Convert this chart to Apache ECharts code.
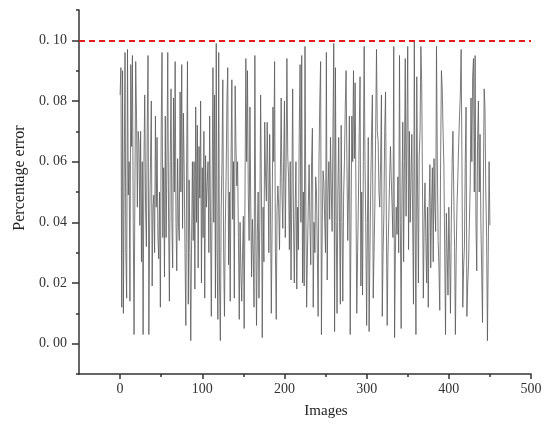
<!DOCTYPE html>
<html>
<head>
<meta charset="utf-8">
<script src="https://cdn.jsdelivr.net/npm/echarts@6/dist/echarts.min.js"></script>
<style>
  html, body { margin: 0; padding: 0; background: #fff; }
  #chart { width: 550px; height: 428px; }
</style>
</head>
<body>
<div id="chart"></div>
<script>
// x tick values / labels
var xMajorTicks = [0, 100, 200, 300, 400, 500];
var xMinorTicks = [50, 150, 250, 350, 450];
// y tick values / labels
var yMajorTicks = [0, 0.02, 0.04, 0.06, 0.08, 0.1];
var yMinorTicks = [-0.01, 0.01, 0.03, 0.05, 0.07, 0.09, 0.11];
var threshold = 0.1;

// percentage error per image (images 0..105)
var errorsA = [
  0.082, 0.091, 0.012, 0.090, 0.010, 0.055, 0.096, 0.030, 0.015, 0.097,
  0.049, 0.060, 0.014, 0.092, 0.065, 0.095, 0.040, 0.003, 0.050, 0.093,
  0.075, 0.045, 0.070, 0.066, 0.039, 0.070, 0.027, 0.060, 0.003, 0.060,
  0.082, 0.045, 0.032, 0.070, 0.095, 0.003, 0.041, 0.060, 0.080, 0.019,
  0.045, 0.049, 0.030, 0.075, 0.045, 0.068, 0.035, 0.028, 0.050, 0.012,
  0.070, 0.096, 0.035, 0.058, 0.022, 0.075, 0.035, 0.060, 0.096, 0.040,
  0.014, 0.060, 0.084, 0.040, 0.025, 0.081, 0.050, 0.093, 0.040, 0.024,
  0.061, 0.040, 0.034, 0.083, 0.050, 0.092, 0.038, 0.076, 0.057, 0.030,
  0.006, 0.060, 0.093, 0.013, 0.054, 0.030, 0.001, 0.034, 0.060, 0.034,
  0.060, 0.018, 0.078, 0.040, 0.072, 0.025, 0.065, 0.048, 0.080, 0.020,
  0.058, 0.035, 0.070, 0.015, 0.062, 0.045
];
// images 106..222
var errorsB = [
  0.053, 0.060, 0.030, 0.075, 0.040, 0.009, 0.050, 0.091, 0.040, 0.082,
  0.015, 0.099, 0.030, 0.008, 0.096, 0.020, 0.001, 0.044, 0.060, 0.087,
  0.030, 0.009, 0.039, 0.055, 0.080, 0.091, 0.026, 0.050, 0.014, 0.060,
  0.087, 0.041, 0.060, 0.015, 0.085, 0.065, 0.052, 0.060, 0.035, 0.008,
  0.040, 0.024, 0.014, 0.030, 0.042, 0.005, 0.050, 0.094, 0.060, 0.090,
  0.049, 0.034, 0.078, 0.045, 0.022, 0.041, 0.030, 0.012, 0.095, 0.040,
  0.006, 0.036, 0.050, 0.015, 0.040, 0.082, 0.050, 0.002, 0.045, 0.027,
  0.073, 0.055, 0.047, 0.073, 0.055, 0.030, 0.069, 0.045, 0.010, 0.040,
  0.078, 0.060, 0.093, 0.030, 0.008, 0.044, 0.052, 0.045, 0.031, 0.055,
  0.081, 0.050, 0.038, 0.060, 0.080, 0.035, 0.060, 0.094, 0.062, 0.055,
  0.031, 0.060, 0.021, 0.050, 0.084, 0.040, 0.020, 0.044, 0.060, 0.018,
  0.045, 0.031, 0.070, 0.092, 0.040, 0.095, 0.020
];
// images 223..338
var errorsC = [
  0.050, 0.019, 0.098, 0.045, 0.012, 0.030, 0.045, 0.059, 0.040, 0.026,
  0.060, 0.071, 0.012, 0.040, 0.030, 0.055, 0.050, 0.030, 0.009, 0.060,
  0.080, 0.093, 0.003, 0.040, 0.057, 0.053, 0.040, 0.030, 0.096, 0.021,
  0.050, 0.060, 0.041, 0.068, 0.050, 0.037, 0.070, 0.099, 0.004, 0.091,
  0.040, 0.010, 0.050, 0.068, 0.040, 0.013, 0.072, 0.040, 0.014, 0.049,
  0.060, 0.078, 0.090, 0.060, 0.034, 0.050, 0.075, 0.003, 0.040, 0.075,
  0.060, 0.090, 0.061, 0.086, 0.050, 0.010, 0.030, 0.047, 0.070, 0.088,
  0.019, 0.050, 0.016, 0.060, 0.098, 0.060, 0.038, 0.006, 0.040, 0.068,
  0.004, 0.030, 0.052, 0.070, 0.082, 0.015, 0.030, 0.045, 0.070, 0.097,
  0.070, 0.067, 0.050, 0.045, 0.060, 0.082, 0.009, 0.030, 0.043, 0.070,
  0.083, 0.040, 0.006, 0.030, 0.042, 0.055, 0.065, 0.054, 0.045, 0.035,
  0.098, 0.002, 0.030, 0.045, 0.036, 0.055
];
// images 339..450
var errorsD = [
  0.030, 0.095, 0.040, 0.005, 0.050, 0.073, 0.027, 0.060, 0.094, 0.042,
  0.070, 0.098, 0.031, 0.070, 0.040, 0.054, 0.069, 0.040, 0.013, 0.100,
  0.040, 0.003, 0.088, 0.050, 0.020, 0.062, 0.070, 0.098, 0.086, 0.050,
  0.015, 0.040, 0.053, 0.035, 0.020, 0.045, 0.012, 0.045, 0.059, 0.025,
  0.045, 0.058, 0.027, 0.061, 0.045, 0.037, 0.098, 0.060, 0.034, 0.025,
  0.011, 0.060, 0.090, 0.084, 0.070, 0.059, 0.030, 0.003, 0.043, 0.030,
  0.016, 0.045, 0.030, 0.010, 0.040, 0.059, 0.070, 0.050, 0.032, 0.003,
  0.030, 0.046, 0.055, 0.066, 0.075, 0.082, 0.097, 0.060, 0.012, 0.025,
  0.032, 0.060, 0.078, 0.009, 0.020, 0.026, 0.040, 0.052, 0.081, 0.060,
  0.088, 0.094, 0.050, 0.095, 0.040, 0.024, 0.067, 0.080, 0.050, 0.069,
  0.040, 0.024, 0.007, 0.050, 0.084, 0.078, 0.050, 0.035, 0.001, 0.030,
  0.060, 0.039
];

var errors = errorsA.concat(errorsB, errorsC, errorsD);
var lineData = errors.map(function (v, i) { return [i, v]; });

var serif = '"Liberation Serif", "DejaVu Serif", serif';
var axisColor = '#333';

var myChart = echarts.init(document.getElementById('chart'), null, { renderer: 'canvas' });

var option = {
  animation: false,
  backgroundColor: '#fff',
  grid: { left: 79, right: 19, top: 10, bottom: 54 },
  xAxis: [
    {
      type: 'value',
      min: -50,
      max: 500,
      position: 'bottom',
      name: 'Images',
      nameLocation: 'middle',
      nameGap: 30,
      nameTextStyle: { fontFamily: serif, fontSize: 15, color: '#222', padding: [0, 0, 0, 42] },
      axisLine: { show: true, onZero: false, lineStyle: { color: axisColor, width: 1.5 } },
      axisTick: { show: true, customValues: xMajorTicks, length: 5, lineStyle: { color: axisColor, width: 1.5 } },
      axisLabel: { customValues: xMajorTicks, margin: 8, color: '#333', fontFamily: serif, fontSize: 14 },
      splitLine: { show: false }
    },
    {
      // minor ticks
      type: 'value',
      min: -50,
      max: 500,
      position: 'bottom',
      axisLine: { show: false, onZero: false },
      axisTick: { show: true, customValues: xMinorTicks, length: 3, lineStyle: { color: axisColor, width: 1.5 } },
      axisLabel: { show: false },
      splitLine: { show: false }
    }
  ],
  yAxis: [
    {
      type: 'value',
      min: -0.01,
      max: 0.11,
      position: 'left',
      name: 'Percentage error',
      nameLocation: 'middle',
      nameGap: 50,
      nameTextStyle: { fontFamily: serif, fontSize: 16, color: '#222', padding: [0, 0, 0, 28] },
      axisLine: { show: true, onZero: false, lineStyle: { color: axisColor, width: 1.5 } },
      axisTick: { show: true, customValues: yMajorTicks, length: 7, lineStyle: { color: axisColor, width: 1.5 } },
      axisLabel: {
        customValues: yMajorTicks,
        margin: 12,
        color: '#333',
        fontFamily: serif,
        fontSize: 14,
        formatter: function (v) { return v.toFixed(2).replace('.', '. '); }
      },
      splitLine: { show: false }
    },
    {
      // minor ticks
      type: 'value',
      min: -0.01,
      max: 0.11,
      position: 'left',
      axisLine: { show: false, onZero: false },
      axisTick: { show: true, customValues: yMinorTicks, length: 3, lineStyle: { color: axisColor, width: 1.5 } },
      axisLabel: { show: false },
      splitLine: { show: false }
    }
  ],
  series: [
    {
      type: 'line',
      data: lineData,
      xAxisIndex: 0,
      yAxisIndex: 0,
      showSymbol: false,
      symbol: 'none',
      lineStyle: { color: '#5a5a5a', width: 0.8 },
      markLine: {
        silent: true,
        symbol: 'none',
        label: { show: false },
        lineStyle: { color: '#e41a1c', width: 2, type: [6, 4] },
        data: [{ yAxis: threshold }]
      }
    }
  ]
};

myChart.setOption(option);
</script>
</body>
</html>
